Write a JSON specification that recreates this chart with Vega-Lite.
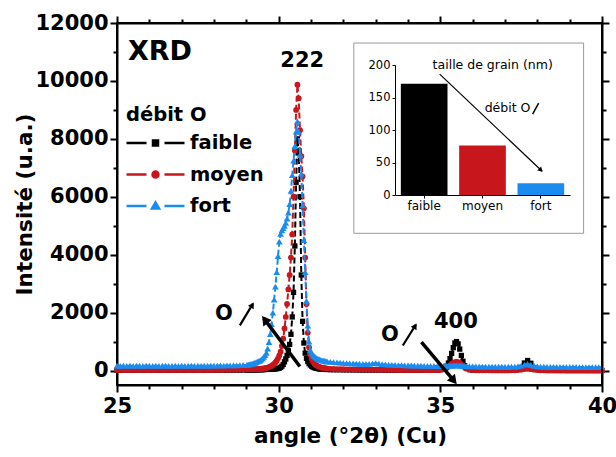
{
"$schema": "https://vega.github.io/schema/vega-lite/v6.json",
"width": 485, "height": 362,
"autosize": "none",
"padding": {"left": 117, "top": 23, "right": 14, "bottom": 72},
"config": {"font": "DejaVu Sans", "view": {"stroke": "black", "strokeWidth": 2}},
"datasets": {
"xrd": [
{"x":25.0,"faible":12,"moyen":18,"fort":165},{"x":25.1,"faible":10,"moyen":20,"fort":158},{"x":25.2,"faible":14,"moyen":16,"fort":170},{"x":25.3,"faible":11,"moyen":19,"fort":162},{"x":25.4,"faible":13,"moyen":17,"fort":168},{"x":25.5,"faible":9,"moyen":21,"fort":160},{"x":25.6,"faible":12,"moyen":18,"fort":172},{"x":25.7,"faible":14,"moyen":15,"fort":164},{"x":25.8,"faible":10,"moyen":20,"fort":158},{"x":25.9,"faible":13,"moyen":18,"fort":166},
{"x":26.0,"faible":11,"moyen":16,"fort":170},{"x":26.1,"faible":12,"moyen":19,"fort":161},{"x":26.2,"faible":15,"moyen":17,"fort":167},{"x":26.3,"faible":10,"moyen":20,"fort":159},{"x":26.4,"faible":12,"moyen":18,"fort":165},{"x":26.5,"faible":13,"moyen":16,"fort":171},{"x":26.6,"faible":11,"moyen":21,"fort":163},{"x":26.7,"faible":14,"moyen":18,"fort":160},{"x":26.8,"faible":10,"moyen":17,"fort":168},{"x":26.9,"faible":12,"moyen":19,"fort":162},
{"x":27.0,"faible":13,"moyen":16,"fort":166},{"x":27.1,"faible":11,"moyen":20,"fort":158},{"x":27.2,"faible":14,"moyen":18,"fort":164},{"x":27.3,"faible":12,"moyen":17,"fort":170},{"x":27.4,"faible":10,"moyen":21,"fort":161},{"x":27.5,"faible":13,"moyen":18,"fort":167},{"x":27.6,"faible":12,"moyen":16,"fort":163},{"x":27.7,"faible":14,"moyen":20,"fort":169},{"x":27.8,"faible":11,"moyen":18,"fort":165},{"x":27.9,"faible":13,"moyen":22,"fort":172},
{"x":28.0,"faible":12,"moyen":20,"fort":166},{"x":28.1,"faible":14,"moyen":23,"fort":170},{"x":28.2,"faible":13,"moyen":21,"fort":175},{"x":28.3,"faible":15,"moyen":24,"fort":171},{"x":28.4,"faible":14,"moyen":26,"fort":178},{"x":28.5,"faible":16,"moyen":25,"fort":175},{"x":28.6,"faible":15,"moyen":28,"fort":182},{"x":28.7,"faible":17,"moyen":30,"fort":180},{"x":28.8,"faible":16,"moyen":32,"fort":186},{"x":28.9,"faible":18,"moyen":35,"fort":190},
{"x":29.02,"faible":19,"moyen":40,"fort":200},{"x":29.06,"faible":20,"moyen":42,"fort":205},{"x":29.10,"faible":21,"moyen":43,"fort":215},{"x":29.14,"faible":22,"moyen":44,"fort":225},{"x":29.18,"faible":23,"moyen":45,"fort":235},{"x":29.22,"faible":24,"moyen":46,"fort":250},{"x":29.26,"faible":25,"moyen":47,"fort":265},{"x":29.30,"faible":26,"moyen":48,"fort":285},{"x":29.34,"faible":27,"moyen":50,"fort":305},{"x":29.38,"faible":28,"moyen":52,"fort":325},
{"x":29.42,"faible":29,"moyen":55,"fort":340},{"x":29.46,"faible":30,"moyen":60,"fort":380},{"x":29.50,"faible":32,"moyen":65,"fort":420},{"x":29.54,"faible":34,"moyen":72,"fort":470},{"x":29.58,"faible":36,"moyen":80,"fort":530},{"x":29.62,"faible":38,"moyen":90,"fort":610},{"x":29.66,"faible":40,"moyen":100,"fort":760},{"x":29.70,"faible":42,"moyen":115,"fort":980},{"x":29.74,"faible":44,"moyen":135,"fort":1260},{"x":29.78,"faible":47,"moyen":160,"fort":1600},
{"x":29.82,"faible":50,"moyen":190,"fort":2000},{"x":29.86,"faible":54,"moyen":230,"fort":2450},{"x":29.90,"faible":58,"moyen":280,"fort":2900},{"x":29.94,"faible":64,"moyen":340,"fort":3400},{"x":29.98,"faible":72,"moyen":420,"fort":3950},{"x":30.02,"faible":85,"moyen":520,"fort":4450},{"x":30.06,"faible":110,"moyen":650,"fort":4720},{"x":30.10,"faible":150,"moyen":850,"fort":4840},{"x":30.14,"faible":210,"moyen":1100,"fort":4920},{"x":30.18,"faible":300,"moyen":1450,"fort":5000},
{"x":30.22,"faible":400,"moyen":1850,"fort":5100},{"x":30.26,"faible":520,"moyen":2300,"fort":5250},{"x":30.30,"faible":680,"moyen":2800,"fort":5450},{"x":30.34,"faible":900,"moyen":3300,"fort":5750},{"x":30.38,"faible":1250,"moyen":3900,"fort":6200},{"x":30.42,"faible":1850,"moyen":4700,"fort":6750},{"x":30.46,"faible":2700,"moyen":6000,"fort":7250},{"x":30.50,"faible":4300,"moyen":7600,"fort":7750},{"x":30.54,"faible":6500,"moyen":9000,"fort":8250},{"x":30.58,"faible":8000,"moyen":9870,"fort":8600},
{"x":30.62,"faible":7600,"moyen":9400,"fort":8250},{"x":30.66,"faible":6000,"moyen":8300,"fort":7450},{"x":30.70,"faible":3300,"moyen":7400,"fort":6800},{"x":30.74,"faible":1700,"moyen":6700,"fort":5700},{"x":30.78,"faible":950,"moyen":5600,"fort":4500},{"x":30.82,"faible":600,"moyen":3900,"fort":3400},{"x":30.86,"faible":420,"moyen":2300,"fort":2400},{"x":30.90,"faible":310,"moyen":1300,"fort":1550},{"x":30.94,"faible":240,"moyen":800,"fort":1000},{"x":30.98,"faible":190,"moyen":550,"fort":700},
{"x":31.02,"faible":150,"moyen":400,"fort":600},{"x":31.06,"faible":120,"moyen":310,"fort":540},{"x":31.10,"faible":100,"moyen":250,"fort":495},{"x":31.14,"faible":85,"moyen":200,"fort":460},{"x":31.18,"faible":75,"moyen":170,"fort":430},{"x":31.22,"faible":65,"moyen":145,"fort":405},{"x":31.26,"faible":58,"moyen":125,"fort":385},{"x":31.30,"faible":52,"moyen":110,"fort":368},{"x":31.34,"faible":48,"moyen":98,"fort":352},{"x":31.38,"faible":44,"moyen":88,"fort":340},
{"x":31.42,"faible":41,"moyen":80,"fort":330},{"x":31.46,"faible":38,"moyen":72,"fort":320},{"x":31.50,"faible":36,"moyen":66,"fort":312},
{"x":31.6,"faible":30,"moyen":58,"fort":300},{"x":31.7,"faible":28,"moyen":53,"fort":288},{"x":31.8,"faible":27,"moyen":49,"fort":278},{"x":31.9,"faible":26,"moyen":46,"fort":270},{"x":32.0,"faible":25,"moyen":43,"fort":262},{"x":32.1,"faible":24,"moyen":41,"fort":255},{"x":32.2,"faible":23,"moyen":39,"fort":249},{"x":32.3,"faible":22,"moyen":37,"fort":244},{"x":32.4,"faible":21,"moyen":35,"fort":239},{"x":32.5,"faible":20,"moyen":34,"fort":234},
{"x":32.6,"faible":19,"moyen":33,"fort":230},{"x":32.7,"faible":19,"moyen":32,"fort":226},{"x":32.8,"faible":18,"moyen":31,"fort":230},{"x":32.9,"faible":18,"moyen":30,"fort":245},{"x":33.0,"faible":17,"moyen":29,"fort":258},{"x":33.1,"faible":17,"moyen":28,"fort":240},{"x":33.2,"faible":16,"moyen":27,"fort":220},{"x":33.3,"faible":16,"moyen":26,"fort":210},{"x":33.4,"faible":15,"moyen":25,"fort":204},{"x":33.5,"faible":15,"moyen":24,"fort":198},
{"x":33.6,"faible":14,"moyen":23,"fort":193},{"x":33.7,"faible":14,"moyen":22,"fort":188},{"x":33.8,"faible":13,"moyen":21,"fort":184},{"x":33.9,"faible":13,"moyen":20,"fort":180},{"x":34.0,"faible":12,"moyen":19,"fort":176},{"x":34.1,"faible":12,"moyen":18,"fort":173},{"x":34.2,"faible":11,"moyen":17,"fort":170},{"x":34.3,"faible":11,"moyen":16,"fort":167},{"x":34.4,"faible":10,"moyen":15,"fort":164},{"x":34.5,"faible":10,"moyen":14,"fort":162},
{"x":34.6,"faible":10,"moyen":13,"fort":160},{"x":34.7,"faible":11,"moyen":13,"fort":158},{"x":34.8,"faible":12,"moyen":14,"fort":156},{"x":34.9,"faible":15,"moyen":16,"fort":155},{"x":35.0,"faible":25,"moyen":25,"fort":155},{"x":35.1,"faible":50,"moyen":45,"fort":156},{"x":35.15,"faible":85,"moyen":65,"fort":157},{"x":35.2,"faible":150,"moyen":95,"fort":159},{"x":35.25,"faible":260,"moyen":135,"fort":162},{"x":35.3,"faible":410,"moyen":180,"fort":166},
{"x":35.35,"faible":590,"moyen":225,"fort":170},{"x":35.4,"faible":790,"moyen":265,"fort":174},{"x":35.45,"faible":950,"moyen":290,"fort":176},{"x":35.5,"faible":1000,"moyen":300,"fort":177},{"x":35.55,"faible":920,"moyen":290,"fort":176},{"x":35.6,"faible":740,"moyen":260,"fort":173},{"x":35.65,"faible":520,"moyen":215,"fort":168},{"x":35.7,"faible":320,"moyen":160,"fort":162},{"x":35.75,"faible":170,"moyen":110,"fort":157},{"x":35.8,"faible":90,"moyen":70,"fort":152},
{"x":35.9,"faible":35,"moyen":30,"fort":147},{"x":36.0,"faible":15,"moyen":15,"fort":143},{"x":36.1,"faible":9,"moyen":10,"fort":140},{"x":36.2,"faible":7,"moyen":8,"fort":138},{"x":36.3,"faible":6,"moyen":7,"fort":136},{"x":36.4,"faible":5,"moyen":6,"fort":135},{"x":36.5,"faible":5,"moyen":6,"fort":134},{"x":36.6,"faible":5,"moyen":5,"fort":133},{"x":36.7,"faible":5,"moyen":5,"fort":132},{"x":36.8,"faible":5,"moyen":5,"fort":132},
{"x":36.9,"faible":5,"moyen":5,"fort":131},{"x":37.0,"faible":5,"moyen":5,"fort":131},{"x":37.1,"faible":6,"moyen":5,"fort":131},{"x":37.2,"faible":8,"moyen":6,"fort":132},{"x":37.3,"faible":15,"moyen":8,"fort":135},{"x":37.4,"faible":40,"moyen":15,"fort":145},{"x":37.5,"faible":110,"moyen":30,"fort":170},{"x":37.6,"faible":260,"moyen":50,"fort":205},{"x":37.7,"faible":345,"moyen":60,"fort":225},{"x":37.8,"faible":250,"moyen":48,"fort":200},
{"x":37.9,"faible":100,"moyen":28,"fort":165},{"x":38.0,"faible":35,"moyen":14,"fort":145},{"x":38.1,"faible":12,"moyen":8,"fort":135},{"x":38.2,"faible":6,"moyen":6,"fort":130},{"x":38.3,"faible":4,"moyen":5,"fort":128},{"x":38.4,"faible":3,"moyen":4,"fort":127},{"x":38.5,"faible":3,"moyen":4,"fort":126},{"x":38.6,"faible":2,"moyen":3,"fort":125},{"x":38.7,"faible":2,"moyen":3,"fort":124},{"x":38.8,"faible":2,"moyen":3,"fort":124},
{"x":38.9,"faible":1,"moyen":2,"fort":123},{"x":39.0,"faible":1,"moyen":2,"fort":122},{"x":39.1,"faible":1,"moyen":2,"fort":122},{"x":39.2,"faible":1,"moyen":2,"fort":121},{"x":39.3,"faible":1,"moyen":2,"fort":120},{"x":39.4,"faible":1,"moyen":1,"fort":120},{"x":39.5,"faible":0,"moyen":1,"fort":119},{"x":39.6,"faible":0,"moyen":1,"fort":118},{"x":39.7,"faible":0,"moyen":1,"fort":118},{"x":39.8,"faible":0,"moyen":1,"fort":117},
{"x":39.9,"faible":0,"moyen":1,"fort":117},{"x":40.0,"faible":0,"moyen":1,"fort":116}
],
"grain": [{"cat":"faible","v":171},{"cat":"moyen","v":76},{"cat":"fort","v":18}]
},
"layer": [
{
"layer": [
{"data": {"values": [{}]}, "mark": {"type": "rect", "fill": "white", "stroke": "#9a9a9a", "strokeWidth": 1},
 "encoding": {"x": {"datum": 32.324, "type": "quantitative", "axis": null}, "x2": {"datum": 39.431}, "y": {"datum": 11308, "type": "quantitative", "axis": null}, "y2": {"datum": 4738}}},
{"data": {"name": "xrd"},
 "mark": {"type": "line", "strokeWidth": 2, "strokeDash": [6, 3], "point": {"shape": "square", "size": 28, "filled": true}},
 "encoding": {
  "x": {"field": "x", "type": "quantitative", "scale": {"domain": [25, 40], "nice": false, "zero": false},
   "axis": {"orient": "bottom", "title": "angle (°2θ) (Cu)", "values": [25, 30, 35, 40], "format": "d",
    "labelOverlap": false, "labelFlush": false,
    "labelFont": "DejaVu Sans", "labelFontSize": 21, "labelFontWeight": "bold", "labelColor": "black", "labelPadding": 3,
    "tickSize": 7, "tickWidth": 2, "tickColor": "black",
    "domainWidth": 2, "domainColor": "black", "grid": false,
    "titleFont": "DejaVu Sans", "titleFontSize": 21.5, "titleFontWeight": "bold", "titleColor": "black", "titlePadding": 9,
    "titleX": 233, "titleAlign": "center"}},
  "y": {"field": "faible", "type": "quantitative", "scale": {"domain": [-500, 12000], "nice": false, "zero": false},
   "axis": {"orient": "left", "title": "Intensité (u.a.)", "values": [0, 2000, 4000, 6000, 8000, 10000, 12000], "format": "d",
    "labelOverlap": false, "labelFlush": false,
    "labelFont": "DejaVu Sans", "labelFontSize": 21, "labelFontWeight": "bold", "labelColor": "black", "labelPadding": 2,
    "tickSize": 7, "tickWidth": 2, "tickColor": "black",
    "domainWidth": 2, "domainColor": "black", "grid": false,
    "titleFont": "DejaVu Sans", "titleFontSize": 21.5, "titleFontWeight": "bold", "titleColor": "black", "titlePadding": -2}},
  "color": {"datum": "faible", "type": "nominal",
   "scale": {"domain": ["faible", "moyen", "fort"], "range": ["#000000", "#c8161d", "#1a8cf0"]},
   "legend": {"orient": "none", "legendX": 9, "legendY": 83, "title": "débit O", "padding": 0,
    "titleFont": "DejaVu Sans", "titleFontSize": 19.5, "titleFontWeight": "bold", "titleColor": "black", "titlePadding": 6,
    "labelFont": "DejaVu Sans", "labelFontSize": 19.5, "labelFontWeight": "bold", "labelColor": "black", "labelOffset": 41,
    "symbolSize": 400, "symbolStrokeWidth": 2.5, "rowPadding": 10.5,
    "encode": {"symbols": {"update": {
      "shape": {"signal": "datum.value === 'faible' ? 'M-1.1,0H0.9M2.7,0H4.7M1.55,-0.25H2.05V0.25H1.55Z' : datum.value === 'moyen' ? 'M-1.1,0H0.9M2.7,0H4.7M2.1,0A0.3,0.3 0 1,1 1.5,0A0.3,0.3 0 1,1 2.1,0Z' : 'M-1.1,0H0.9M2.7,0H4.7M1.8,-0.35L2.15,0.25H1.45Z'"},
      "fill": {"signal": "scale('color', datum.value)"},
      "stroke": {"signal": "scale('color', datum.value)"},
      "strokeWidth": {"value": 2.5},
      "size": {"value": 400},
      "opacity": {"value": 1}}}}}}
 }},
{"data": {"name": "xrd"},
 "mark": {"type": "line", "strokeWidth": 2, "strokeDash": [6, 3], "point": {"shape": "circle", "size": 34, "filled": true}},
 "encoding": {"x": {"field": "x", "type": "quantitative", "axis": null}, "y": {"field": "moyen", "type": "quantitative", "axis": null}, "color": {"datum": "moyen", "type": "nominal"}}},
{"data": {"name": "xrd"},
 "mark": {"type": "line", "strokeWidth": 2, "strokeDash": [6, 3], "point": {"shape": "triangle-up", "size": 45, "filled": true}},
 "encoding": {"x": {"field": "x", "type": "quantitative", "axis": null}, "y": {"field": "fort", "type": "quantitative", "axis": null}, "color": {"datum": "fort", "type": "nominal"}}},
{"data": {"values": [{}]}, "mark": {"type": "rule", "strokeWidth": 2, "color": "black"},
 "encoding": {"x": {"datum": 25, "type": "quantitative", "axis": null}, "x2": {"datum": 40}, "y": {"datum": 12000, "type": "quantitative", "axis": null}}},
{"data": {"values": [{}]}, "mark": {"type": "rule", "strokeWidth": 2, "color": "black"},
 "encoding": {"x": {"datum": 40, "type": "quantitative", "axis": null}, "y": {"datum": -500, "type": "quantitative", "axis": null}, "y2": {"datum": 12000}}},
{"data": {"values": [{}]}, "mark": {"type": "text", "text": "XRD", "fontSize": 27, "fontWeight": "bold", "align": "left", "baseline": "middle", "color": "black"},
 "encoding": {"x": {"datum": 25.34, "type": "quantitative", "axis": null}, "y": {"datum": 10997, "type": "quantitative", "axis": null}}},
{"data": {"values": [{}]}, "mark": {"type": "text", "text": "222", "fontSize": 21, "fontWeight": "bold", "align": "center", "baseline": "middle", "color": "black"},
 "encoding": {"x": {"datum": 30.73, "type": "quantitative", "axis": null}, "y": {"datum": 10686, "type": "quantitative", "axis": null}}},
{"data": {"values": [{}]}, "mark": {"type": "text", "text": "400", "fontSize": 21, "fontWeight": "bold", "align": "center", "baseline": "middle", "color": "black"},
 "encoding": {"x": {"datum": 35.48, "type": "quantitative", "axis": null}, "y": {"datum": 1678, "type": "quantitative", "axis": null}}},
{"data": {"values": [{}]}, "mark": {"type": "text", "text": "O", "fontSize": 21, "fontWeight": "bold", "align": "center", "baseline": "middle", "color": "black"},
 "encoding": {"x": {"datum": 28.31, "type": "quantitative", "axis": null}, "y": {"datum": 1937, "type": "quantitative", "axis": null}}},
{"data": {"values": [{}]}, "mark": {"type": "text", "text": "O", "fontSize": 21, "fontWeight": "bold", "align": "center", "baseline": "middle", "color": "black"},
 "encoding": {"x": {"datum": 33.44, "type": "quantitative", "axis": null}, "y": {"datum": 1211, "type": "quantitative", "axis": null}}},
{"data": {"values": [{}]}, "mark": {"type": "rule", "strokeWidth": 2.2, "color": "black"},
 "encoding": {"x": {"datum": 28.80, "type": "quantitative", "axis": null}, "y": {"datum": 1557, "type": "quantitative", "axis": null}, "x2": {"datum": 29.20}, "y2": {"datum": 2300}}},
{"data": {"values": [{}]}, "mark": {"type": "point", "shape": "triangle-up", "filled": true, "color": "black", "opacity": 1, "size": 45, "angle": 31},
 "encoding": {"x": {"datum": 29.184, "type": "quantitative", "axis": null}, "y": {"datum": 2262, "type": "quantitative", "axis": null}}},
{"data": {"values": [{}]}, "mark": {"type": "rule", "strokeWidth": 2.2, "color": "black"},
 "encoding": {"x": {"datum": 33.84, "type": "quantitative", "axis": null}, "y": {"datum": 865, "type": "quantitative", "axis": null}, "x2": {"datum": 34.24}, "y2": {"datum": 1580}}},
{"data": {"values": [{}]}, "mark": {"type": "point", "shape": "triangle-up", "filled": true, "color": "black", "opacity": 1, "size": 45, "angle": 31},
 "encoding": {"x": {"datum": 34.221, "type": "quantitative", "axis": null}, "y": {"datum": 1536, "type": "quantitative", "axis": null}}},
{"data": {"values": [{}]}, "mark": {"type": "rule", "strokeWidth": 3.5, "color": "black"},
 "encoding": {"x": {"datum": 30.655, "type": "quantitative", "axis": null}, "y": {"datum": 139, "type": "quantitative", "axis": null}, "x2": {"datum": 29.54}, "y2": {"datum": 1800}}},
{"data": {"values": [{}]}, "mark": {"type": "point", "shape": "triangle-up", "filled": true, "color": "black", "opacity": 1, "size": 110, "angle": -37},
 "encoding": {"x": {"datum": 29.571, "type": "quantitative", "axis": null}, "y": {"datum": 1757, "type": "quantitative", "axis": null}}},
{"data": {"values": [{}]}, "mark": {"type": "rule", "strokeWidth": 3.5, "color": "black"},
 "encoding": {"x": {"datum": 34.416, "type": "quantitative", "axis": null}, "y": {"datum": 979, "type": "quantitative", "axis": null}, "x2": {"datum": 35.45}, "y2": {"datum": -390}}},
{"data": {"values": [{}]}, "mark": {"type": "point", "shape": "triangle-up", "filled": true, "color": "black", "opacity": 1, "size": 110, "angle": 140},
 "encoding": {"x": {"datum": 35.417, "type": "quantitative", "axis": null}, "y": {"datum": -352, "type": "quantitative", "axis": null}}},
{"data": {"values": [{}]}, "mark": {"type": "text", "text": "taille de grain (nm)", "fontSize": 12.5, "align": "center", "baseline": "middle", "color": "black"},
 "encoding": {"x": {"datum": 36.62, "type": "quantitative", "axis": null}, "y": {"datum": 10548, "type": "quantitative", "axis": null}}},
{"data": {"values": [{}]}, "mark": {"type": "text", "text": "débit O", "fontSize": 12.5, "align": "left", "baseline": "middle", "color": "black"},
 "encoding": {"x": {"datum": 36.37, "type": "quantitative", "axis": null}, "y": {"datum": 9061, "type": "quantitative", "axis": null}}},
{"data": {"values": [{}]}, "mark": {"type": "rule", "strokeWidth": 1.5, "color": "black"},
 "encoding": {"x": {"datum": 37.855, "type": "quantitative", "axis": null}, "y": {"datum": 8853, "type": "quantitative", "axis": null}, "x2": {"datum": 38.04}, "y2": {"datum": 9234}}},
{"data": {"values": [{}]}, "mark": {"type": "rule", "strokeWidth": 1.2, "color": "black"},
 "encoding": {"x": {"datum": 34.98, "type": "quantitative", "axis": null}, "y": {"datum": 10236, "type": "quantitative", "axis": null}, "x2": {"datum": 38.15}, "y2": {"datum": 6880}}},
{"data": {"values": [{}]}, "mark": {"type": "point", "shape": "triangle-up", "filled": true, "color": "black", "opacity": 1, "size": 30, "angle": 134},
 "encoding": {"x": {"datum": 38.11, "type": "quantitative", "axis": null}, "y": {"datum": 6917, "type": "quantitative", "axis": null}}},
{"data": {"name": "xrd"},
 "mark": {"type": "point", "opacity": 0},
 "encoding": {
  "x": {"field": "x", "type": "quantitative",
   "axis": {"orient": "top", "title": null, "values": [25,26,27,28,29,30,31,32,33,34,35,36,37,38,39,40], "labelOpacity": 0, "labelFontSize": 1,
    "tickSize": {"condition": {"test": "datum.value % 5 === 0", "value": 7}, "value": 4}, "tickWidth": 2, "tickColor": "black",
    "domainWidth": 2, "domainColor": "black", "grid": false}},
  "y": {"field": "fort", "type": "quantitative",
   "axis": {"orient": "right", "title": null, "values": [0,1000,2000,3000,4000,5000,6000,7000,8000,9000,10000,11000,12000], "labelOpacity": 0, "labelFontSize": 1,
    "tickSize": {"condition": {"test": "datum.value % 2000 === 0", "value": 7}, "value": 4}, "tickWidth": 2, "tickColor": "black",
    "domainWidth": 2, "domainColor": "black", "grid": false}}
 }},
{"data": {"name": "xrd"},
 "mark": {"type": "point", "opacity": 0},
 "encoding": {
  "x": {"field": "x", "type": "quantitative",
   "axis": {"orient": "bottom", "title": null, "domain": false, "values": [26,27,28,29,31,32,33,34,36,37,38,39], "labelOpacity": 0, "labelFontSize": 1,
    "tickSize": 4, "tickWidth": 2, "tickColor": "black", "grid": false}},
  "y": {"field": "moyen", "type": "quantitative",
   "axis": {"orient": "left", "title": null, "domain": false, "values": [1000,3000,5000,7000,9000,11000], "labelOpacity": 0, "labelFontSize": 1,
    "tickSize": 4, "tickWidth": 2, "tickColor": "black", "grid": false}}
 }}
],
"resolve": {"axis": {"x": "independent", "y": "independent"}}
},
{
"data": {"name": "grain"},
"mark": {"type": "bar"},
"encoding": {
 "x": {"field": "cat", "type": "nominal", "sort": ["faible", "moyen", "fort"],
  "scale": {"range": [278, 453], "paddingInner": 0.2, "paddingOuter": 0.1},
  "axis": {"orient": "bottom", "offset": -190, "zindex": 1, "title": null, "labelAngle": 0, "labelFontSize": 12, "labelColor": "black",
   "labelPadding": 2, "tickSize": 3, "tickColor": "black", "domainColor": "black", "domainWidth": 1, "tickWidth": 1, "grid": false}},
 "y": {"field": "v", "type": "quantitative", "scale": {"domain": [0, 200], "range": [172, 42], "nice": false},
  "axis": {"orient": "left", "offset": -278, "zindex": 1, "title": null, "values": [0, 50, 100, 150, 200], "labelFontSize": 11.5, "labelColor": "black",
   "labelPadding": 2, "tickSize": 3, "tickColor": "black", "domainColor": "black", "domainWidth": 1, "tickWidth": 1, "grid": false, "labelFlush": false, "labelOverlap": false}},
 "color": {"field": "cat", "type": "nominal", "legend": null}
}
}
],
"resolve": {"scale": {"x": "independent", "y": "independent"}, "axis": {"x": "independent", "y": "independent"}}
}
